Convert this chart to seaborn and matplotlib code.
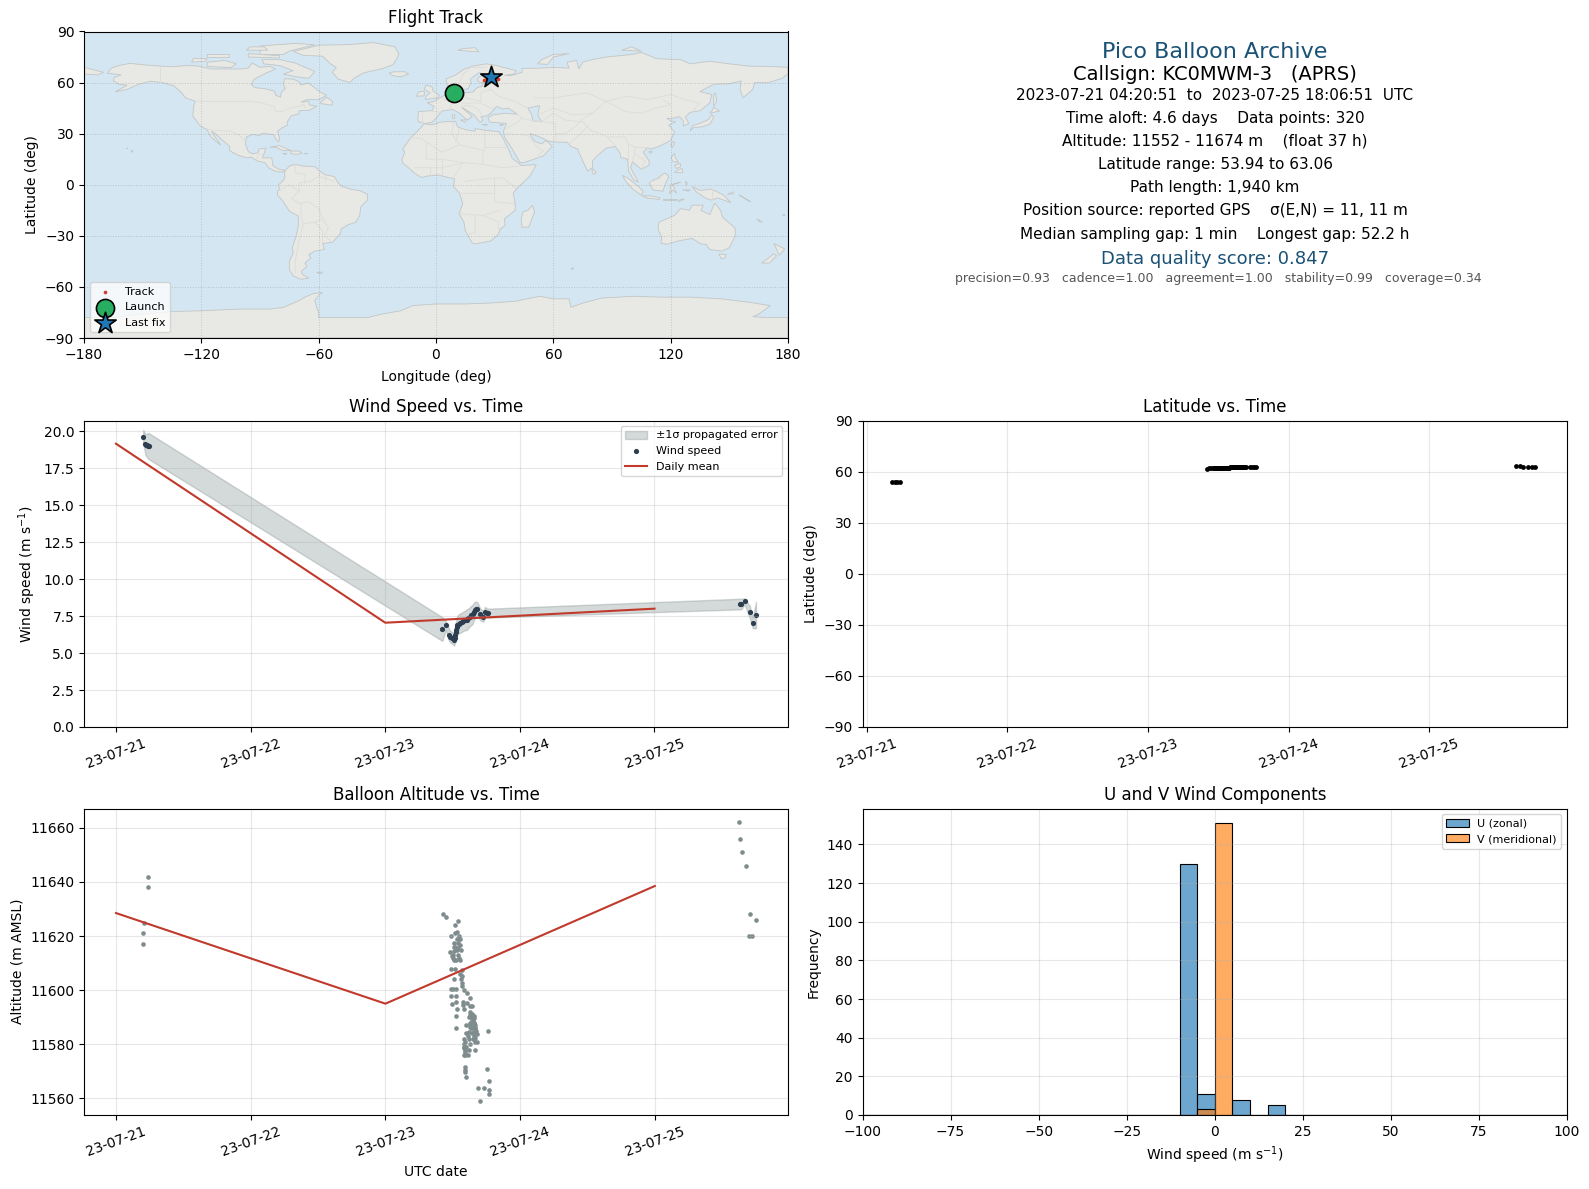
#!/usr/bin/env python3
import numpy as np
import pandas as pd
import seaborn as sns
import matplotlib
matplotlib.use("Agg")
import matplotlib.pyplot as plt
import matplotlib.dates as mdates

W, H = 1589, 1189
T0 = pd.Timestamp("2023-07-21")

RED = "#c0392b"
NAVY = "#1a5276"
SLATE = "#2c3e50"
GREY = "#7f8c8d"
WATER = "#d4e6f1"
LAND = "#e8e8e4"

# ---- flight data (time in days after 07-21 00:00) ----
wind_time = [0.202, 0.219, 0.225, 0.231, 0.237, 0.243, 2.424, 2.449, 2.476, 2.484, 2.494, 2.503, 2.511, 2.515,
             2.518, 2.522, 2.526, 2.531, 2.536, 2.546, 2.556, 2.568, 2.580, 2.592, 2.605, 2.618, 2.630, 2.640,
             2.650, 2.658, 2.667, 2.675, 2.684, 2.704, 2.729, 2.741, 2.754, 2.766, 4.633, 4.645, 4.670, 4.707,
             4.730, 4.754]
wind_speed = [19.63, 19.10, 19.05, 19.05, 19.00, 18.99, 6.62, 6.87, 6.19, 6.10, 6.05, 6.00, 5.90, 6.05,
              6.23, 6.40, 6.57, 6.75, 6.91, 6.97, 7.02, 7.08, 7.14, 7.20, 7.25, 7.36, 7.47, 7.55,
              7.63, 7.80, 7.93, 7.97, 7.99, 7.63, 7.47, 7.77, 7.73, 7.70, 8.31, 8.31, 8.49, 7.79,
              7.03, 7.57]
wind_sigma = [0.45, 0.70, 0.75, 0.80, 0.85, 0.88, 0.80, 0.30, 0.40, 0.40, 0.40, 0.40, 0.40, 0.45,
              0.50, 0.55, 0.60, 0.60, 0.60, 0.65, 0.65, 0.65, 0.65, 0.65, 0.70, 0.65, 0.65, 0.65,
              0.65, 0.60, 0.55, 0.50, 0.45, 0.40, 0.35, 0.35, 0.30, 0.30, 0.36, 0.36, 0.20, 0.40,
              0.35, 0.90]

mean_time = [0, 2, 4]
mean_speed = [19.15, 7.05, 8.0]
mean_alt = [11628.5, 11595.0, 11638.5]

alt_time = [0.203, 0.203, 0.208, 0.241, 0.241,
            2.425, 2.447, 2.541, 2.514, 2.534, 2.519, 2.487, 2.544, 2.551, 2.507, 2.536, 2.556, 2.507, 2.536,
            2.561, 2.531, 2.477, 2.507, 2.497, 2.499, 2.507, 2.526, 2.551, 2.487, 2.514, 2.568, 2.551, 2.568,
            2.511, 2.561, 2.568, 2.568, 2.487, 2.502, 2.526, 2.581, 2.606, 2.625, 2.487, 2.526, 2.576, 2.606,
            2.576, 2.494, 2.526, 2.625, 2.643, 2.531, 2.581, 2.630, 2.643, 2.650, 2.526, 2.618, 2.655, 2.630,
            2.655, 2.667, 2.601, 2.630, 2.643, 2.667, 2.526, 2.618, 2.655, 2.680, 2.759, 2.581, 2.618, 2.667,
            2.662, 2.581, 2.625, 2.680, 2.586, 2.667, 2.593, 2.618, 2.593, 2.581, 2.611, 2.593, 2.593, 2.593,
            2.752, 2.596, 2.766, 2.685, 2.729, 2.766, 2.699, 2.766,
            2.500, 2.515, 2.540, 2.545, 2.530, 2.545, 2.625, 2.635, 2.640, 2.648, 2.652, 2.660, 2.635, 2.645,
            2.655, 2.662, 2.670, 2.650, 2.640, 2.628, 2.660, 2.585, 2.590, 2.598, 2.610, 2.588, 2.600,
            4.624, 4.631, 4.646, 4.676, 4.706, 4.751, 4.698, 4.721]
alt_m = [11621.0, 11617.0, 11625.0, 11642.0, 11638.0,
         11628.3, 11627.0, 11625.7, 11624.1, 11621.6, 11621.1, 11620.0, 11618.9, 11618.9, 11617.4, 11617.4, 11616.8, 11615.9, 11615.6,
         11614.7, 11614.7, 11614.2, 11614.3, 11612.8, 11611.9, 11611.0, 11611.0, 11611.0, 11607.8, 11607.8, 11607.5, 11606.0, 11605.3,
         11604.1, 11604.1, 11602.6, 11601.7, 11600.6, 11600.6, 11600.6, 11600.1, 11598.9, 11597.0, 11597.9, 11597.7, 11595.8, 11595.4,
         11594.6, 11594.8, 11595.8, 11594.2, 11594.0, 11593.0, 11593.0, 11592.1, 11591.2, 11590.5, 11590.6, 11590.2, 11589.6, 11587.8,
         11587.8, 11587.2, 11587.2, 11586.5, 11585.9, 11585.9, 11585.9, 11584.7, 11584.7, 11583.8, 11584.8, 11582.0, 11582.0, 11582.2,
         11580.7, 11580.1, 11580.1, 11580.7, 11578.5, 11577.9, 11577.9, 11577.9, 11576.0, 11576.0, 11576.0, 11571.7, 11570.5, 11569.9,
         11570.7, 11567.8, 11566.5, 11563.7, 11563.7, 11563.1, 11559.0, 11561.5,
         11613.0, 11616.0, 11613.0, 11620.0, 11619.0, 11612.0, 11591.0, 11590.0, 11589.0, 11588.5, 11589.0, 11588.0, 11586.0, 11584.0,
         11583.0, 11586.0, 11585.0, 11582.0, 11586.5, 11587.0, 11590.5, 11579.0, 11577.0, 11579.0, 11583.0, 11581.0, 11584.0,
         11662.0, 11656.0, 11651.0, 11646.0, 11628.0, 11626.0, 11620.0, 11620.0]

lat_time = [0.181, 0.203, 0.219, 0.240, 2.420, 2.436, 2.452, 2.460, 2.470, 2.475, 2.480, 2.485, 2.490, 2.495, 2.500, 2.505,
            2.510, 2.515, 2.520, 2.525, 2.530, 2.535, 2.540, 2.545, 2.550, 2.555, 2.560, 2.565, 2.570, 2.575, 2.580, 2.585,
            2.590, 2.595, 2.600, 2.605, 2.610, 2.615, 2.620, 2.625, 2.630, 2.635, 2.640, 2.645, 2.650, 2.655, 2.660, 2.665,
            2.670, 2.675, 2.680, 2.685, 2.690, 2.700, 2.729, 2.741, 2.754, 2.766, 4.620, 4.645, 4.670, 4.700, 4.730, 4.754]
lat_deg = [53.94, 54.02, 54.08, 54.15, 61.70, 61.85, 62.00, 62.05, 62.10, 62.10, 62.15, 62.15, 62.20, 62.20, 62.20, 62.20,
           62.25, 62.25, 62.25, 62.25, 62.30, 62.30, 62.30, 62.30, 62.30, 62.35, 62.35, 62.35, 62.35, 62.35, 62.35, 62.40,
           62.40, 62.40, 62.40, 62.40, 62.40, 62.40, 62.40, 62.40, 62.40, 62.45, 62.45, 62.45, 62.45, 62.45, 62.45, 62.45,
           62.45, 62.45, 62.45, 62.45, 62.45, 62.45, 62.50, 62.50, 62.50, 62.55, 63.06, 63.00, 62.95, 62.95, 62.90, 62.90]

bin_edges = [-100, -95, -90, -85, -80, -75, -70, -65, -60, -55, -50, -45, -40, -35, -30, -25, -20, -15, -10, -5,
             0, 5, 10, 15, 20, 25, 30, 35, 40, 45, 50, 55, 60, 65, 70, 75, 80, 85, 90, 95, 100]
u_counts = [0] * 18 + [130, 11, 0, 8, 0, 5] + [0] * 16
v_counts = [0] * 19 + [3, 151] + [0] * 19

track_lon = [9.3, 9.6, 24.8, 26.0, 27.4, 28.6, 29.8, 31.5, 28.1]
track_lat = [53.94, 54.15, 61.7, 62.1, 62.3, 62.4, 62.5, 62.1, 63.06]
launch_lon, launch_lat = [9.3], [53.9]
last_lon, last_lat = [28.1], [63.2]

# ---- rough coastlines, (lon, lat) ----
NORTH_AMERICA = [(-168, 65.5), (-166, 68.5), (-162, 70), (-156.5, 71.3), (-150, 70.5), (-141, 69.7), (-135, 69.3), (-128, 70),
                 (-122, 69.8), (-115, 68), (-108, 68), (-100, 68), (-96, 68.5), (-94, 71.5), (-90, 69), (-85, 69.5), (-82, 68),
                 (-87, 65.5), (-93, 62), (-94.5, 59), (-92.5, 57), (-88, 56.5), (-82.5, 55), (-82, 52.5), (-79.5, 51.5),
                 (-79, 54.5), (-77, 56.5), (-78, 59), (-77.5, 62.3), (-73, 62), (-70, 60.5), (-69, 58.5), (-65.5, 59.8),
                 (-62, 57), (-60, 55), (-56, 52.5), (-60, 50), (-66, 50), (-69, 48.5), (-65, 49), (-65, 47), (-61, 46),
                 (-65, 43.7), (-70, 43.5), (-70, 41.7), (-74, 40.5), (-76, 37), (-76, 35), (-79, 33.2), (-81, 31.5), (-80, 27),
                 (-80.5, 25.2), (-82, 27), (-83, 29.5), (-85, 29.7), (-89, 30.2), (-90, 29), (-94, 29.5), (-97, 28), (-97.5, 24),
                 (-96, 19.5), (-94, 18.2), (-91, 18.8), (-90.5, 21), (-87, 21.5), (-88, 18), (-88.8, 15.8), (-84, 15.8),
                 (-83.3, 11), (-80, 9), (-77.3, 8.5), (-78.5, 7.5), (-80.5, 7.5), (-83, 8.3), (-85.7, 10), (-87.5, 13),
                 (-91.5, 14), (-94.5, 16.2), (-97, 15.8), (-101.5, 17.5), (-105.5, 20), (-105.5, 22.5), (-109, 26),
                 (-112.8, 30), (-114.8, 31.5), (-113, 28), (-110, 23.2), (-112, 25), (-115, 28), (-117.2, 32.5),
                 (-120.5, 34.5), (-122.5, 37.5), (-124.3, 40.3), (-124, 46), (-123, 49), (-128, 51), (-130.5, 54.5),
                 (-134, 58), (-140, 60), (-146, 60.8), (-152, 59), (-158, 56), (-164, 54.6), (-158, 58.5), (-162, 59),
                 (-165, 61), (-164.5, 63), (-161, 64.5)]
SOUTH_AMERICA = [(-77.3, 8), (-75, 11), (-72, 12), (-68, 11), (-62, 10.7), (-60, 8.5), (-57, 6), (-52, 4.8), (-50, 1), (-48, -1),
                 (-44, -2.5), (-39, -3.5), (-35, -5.5), (-35, -9), (-38.5, -13), (-39, -18), (-41, -22), (-45, -23.5),
                 (-48.5, -26), (-49, -29), (-53, -33.8), (-58, -34.5), (-57, -38), (-62, -39), (-65, -41), (-64, -43), (-67, -46),
                 (-66, -48), (-69, -51), (-68, -53), (-65, -54.8), (-69, -55.5), (-73, -53.5), (-75, -50), (-75, -45), (-73, -40),
                 (-73.5, -37), (-71.5, -30), (-70.5, -25), (-70.3, -18.5), (-75, -15.5), (-78, -10), (-81, -6), (-81, -4),
                 (-80, -2.5), (-80.5, 0), (-78.5, 2), (-77.3, 4), (-77.5, 7)]
AFRICA = [(-6, 35.8), (-2, 35.2), (3, 36.9), (10, 37.3), (11, 34), (15, 32.3), (20, 31.5), (20, 33), (25, 32), (32, 31.2), (34, 28),
          (37, 21), (39, 15.5), (43, 12), (43.5, 11.3), (51.3, 11.8), (48, 5), (41.5, -2), (39.5, -5), (40.5, -11), (40.5, -15),
          (35, -20), (35.3, -24), (32.8, -26), (32, -29), (28, -33), (20, -34.8), (18.4, -34), (15, -27), (14.3, -22), (11.8, -17),
          (13.7, -11), (12, -5), (9, -1), (9.5, 3.5), (6, 4.3), (1, 5.8), (-4, 5.2), (-7.5, 4.3), (-11, 6.8), (-13.5, 9.5),
          (-16.8, 12.5), (-17.5, 14.7), (-16, 19), (-17, 21), (-13, 27.5), (-9.8, 31)]
EURASIA = [(-9, 37), (-9.3, 39), (-9, 43), (-2, 43.5), (-1, 46), (-4.5, 48.3), (-1.5, 48.7), (2, 51), (5, 53), (8.5, 54), (8.2, 57),
           (10.5, 57.5), (10, 54.5), (14, 54), (19, 54.5), (21, 57), (24, 58), (23.5, 59.3), (30, 60), (23, 60), (21.3, 61),
           (21.5, 63), (25, 65), (22, 65.8), (17.5, 62), (18, 60), (16.5, 56.5), (13, 55.5), (11, 59), (6, 58), (5, 62), (10, 64.5),
           (14.5, 68), (20, 70), (26, 71), (31, 70), (41, 67), (40, 65), (35, 64.3), (38, 64), (44, 66), (44, 68.3), (54, 68.5),
           (60, 69), (68, 68.5), (67, 72), (72, 73), (73, 68), (75, 72), (80, 73.5), (87, 75), (100, 76.5), (105, 77.7), (113, 74),
           (125, 73.5), (130, 71), (140, 72.5), (150, 71), (160, 69.7), (170, 69.5), (180, 69), (180, 65), (177, 62.5), (170, 60),
           (163, 60), (162, 56), (157, 51), (155.5, 56), (156, 61), (150, 59.3), (142, 59), (135, 54.7), (141, 53), (140, 48),
           (135, 43.5), (130, 42.5), (127.5, 39.8), (129.3, 36), (126.5, 34.5), (126.5, 37.5), (124.5, 40), (121, 39), (118, 39),
           (120, 37.5), (122.5, 37), (119, 35), (122, 31), (120, 26), (114, 22.5), (110, 21), (108, 21.7), (106, 19), (109, 14),
           (109, 11.5), (105, 9), (103, 11), (100.5, 13.5), (99.5, 10), (103.5, 1.5), (101, 3), (98.5, 8), (98, 15), (94.5, 16),
           (94, 19), (91.5, 22.5), (87, 21.5), (82, 16.5), (80, 14), (80, 10), (77.5, 8), (73, 19), (72.5, 21), (69, 22.5), (67, 25),
           (61.5, 25), (57, 25.7), (55, 27), (51, 29), (48, 30), (50, 26), (51.5, 25), (54, 24), (56.3, 26), (59.5, 22.5), (55, 17),
           (45, 13), (43, 13), (39, 21), (35, 28), (34.5, 31.5), (36, 36), (31, 36.5), (27.5, 36.8), (26.5, 39.5), (29, 41), (35, 42),
           (41.5, 41.5), (37, 45), (34, 44.5), (31, 46), (28, 42), (26, 40.5), (23, 40), (24, 38), (22.5, 36.5), (19.5, 41), (13, 45.7),
           (18.5, 40), (16, 38), (12, 42), (8.5, 44.3), (3, 43.2), (0, 39), (-2, 36.7), (-5.5, 36)]
CHUKOTKA = [(-180, 69), (-175, 67.5), (-170, 66), (-173, 64.5), (-180, 65)]
AUSTRALIA = [(114, -22), (122, -18), (125, -14), (129.5, -15), (131, -12), (136.7, -12), (135.5, -15), (140, -17.5), (142.5, -10.8),
             (145.5, -15), (146.5, -19), (153, -25.5), (153, -30), (150, -37), (146, -39), (140, -38), (138, -35), (135.5, -34.8),
             (131, -31.5), (124, -33), (118, -35), (115, -34.3), (115.5, -31), (113.5, -26)]
ANTARCTICA = [(-180, -90), (-180, -78), (-165, -78), (-150, -76), (-135, -74.5), (-120, -74), (-100, -73), (-85, -73), (-78, -72),
              (-70, -68), (-67, -66), (-63, -64), (-58, -63.2), (-60, -65), (-62, -68), (-61, -72), (-60, -75), (-60, -78), (-45, -78),
              (-35, -78), (-28, -76), (-18, -74), (-12, -71), (0, -70), (15, -70), (27, -69.5), (40, -68.5), (53, -65.5), (60, -67),
              (68, -67), (69, -72), (75, -69.5), (85, -66.5), (101, -65.5), (115, -66), (130, -66), (146, -67), (160, -69), (171, -71),
              (165, -76), (162, -77.5), (170, -78), (180, -78), (180, -90)]
GREENLAND = [(-73, 78.3), (-68, 76), (-58, 75.5), (-54, 71), (-51, 69), (-53, 66), (-50, 62), (-44, 60), (-42, 62.5), (-37, 65.7),
             (-27, 68.3), (-22, 70.5), (-20, 74), (-19, 77), (-21, 81), (-32, 83.5), (-45, 82.3), (-60, 82), (-65, 80.5)]
ISLANDS = [
    [(-80, 73.5), (-72, 71.5), (-67, 69), (-62, 66.5), (-65, 62.5), (-72, 63.5), (-78, 65), (-73, 67), (-80, 70), (-88, 71), (-89, 73.5)],
    [(-117, 69.5), (-105, 68.8), (-102, 71), (-108, 73), (-117, 72)],
    [(-90, 76.5), (-78, 76.5), (-75, 78.5), (-62, 82.2), (-72, 83), (-90, 81.5)],
    [(-125, 72), (-118, 72.5), (-117, 74), (-124, 74.3)],
    [(-96, 75), (-80, 74.5), (-80, 75.8), (-96, 77)],
    [(-117, 75), (-106, 75), (-106, 76.5), (-117, 76.5)],
    [(-97, 79), (-86, 79), (-88, 81), (-95, 81)],
    [(-59, 47.7), (-53, 46.7), (-53, 49), (-56, 51.5), (-59, 48.5)],
    [(-24, 65.5), (-22, 64), (-18, 63.4), (-14, 65), (-16, 66.4), (-22, 66.3)],
    [(-85, 22), (-80, 23), (-75, 20.5), (-74.2, 20.2), (-78, 20), (-82, 22)],
    [(-74.3, 19.8), (-70, 19.8), (-68.5, 18.5), (-71.5, 17.8), (-74.3, 18.4)],
    [(-78.3, 18.4), (-76.3, 18.2), (-77, 17.8)],
    [(-67.2, 18.5), (-65.7, 18.4), (-66.5, 18)],
    [(-156, 20.2), (-155, 19.7), (-155.7, 19)],
    [(-158.2, 21.6), (-157.7, 21.3), (-158, 21.2)],
    [(-61, -51.5), (-58, -51.3), (-59, -52.3)],
    [(-5.5, 50), (1, 51.2), (1.7, 52.7), (-1.5, 55), (-2, 57.5), (-5, 58.5), (-6, 56), (-3, 54), (-5, 52)],
    [(-10, 52), (-6, 52.2), (-6, 55), (-9, 54.5)],
    [(11, 79), (22, 78), (20, 80.5), (14, 80)],
    [(52, 71), (57, 70.7), (60, 75), (68, 77), (60, 76.5), (54, 73.5)],
    [(95, 79), (105, 78.5), (100, 81)],
    [(12.5, 38), (15.5, 38.2), (15, 36.7)],
    [(8.3, 41), (9.7, 41), (9.5, 39), (8.5, 39)],
    [(23.5, 35.5), (26.3, 35.2), (24.8, 35)],
    [(32.4, 35), (34.5, 35.6), (33.8, 34.7)],
    [(130, 31.5), (131.5, 33.5), (136, 34), (140, 35.5), (142, 39.5), (141, 41.3), (139.5, 38.5), (136, 36.5), (131, 34.5)],
    [(140, 42), (145, 43.3), (142, 45.5), (141, 43.2)],
    [(142, 46), (143.5, 49), (143, 54), (142, 53), (142, 48)],
    [(120, 23), (121, 22), (122, 25), (121, 25.3)],
    [(108.7, 19.3), (110.5, 20), (110, 18.3)],
    [(80, 9.5), (82, 7), (80.5, 6), (79.8, 8)],
    [(120.3, 16), (122, 18.5), (122.3, 16), (124, 13), (121, 13.8)],
    [(122, 7.2), (126, 7), (126, 9.5), (123.5, 8.5)],
    [(122, 11.5), (125, 12.5), (125, 10.5), (123, 9.5)],
    [(109, 1), (111, 2.8), (113, 3.5), (117, 7), (119, 5), (117.5, 1), (116, -3.8), (111, -3), (110, -1)],
    [(95.3, 5.5), (98, 4), (103.5, -1), (106, -4), (105, -6), (101, -3), (97, 2)],
    [(105.3, -6.5), (110, -6.5), (114.5, -7.7), (114.3, -8.7), (108, -7.8)],
    [(119.5, -5.5), (120, 0), (125, 1.5), (121, 0), (123, -5), (121, -3)],
    [(131, -1), (135, -3.3), (141, -2.6), (147, -6), (150.8, -10.5), (144, -7.7), (141, -9), (138, -8), (133, -4)],
    [(124, -10), (127, -8.5), (125, -8.5)],
    [(116, -8.5), (119, -8.5), (123, -8.5), (123, -9), (116, -9)],
    [(127.5, 2), (128.5, 1), (128, -0.5)],
    [(126, -3), (130, -3), (129, -3.7)],
    [(149, -5.5), (152, -4.2), (152, -5.5)],
    [(155, -6), (157, -7.5), (160, -9.5), (161, -10)],
    [(164, -20), (167, -22), (165.5, -21.7)],
    [(177, -17.5), (178.5, -17.7), (178, -18.2)],
    [(69, -49), (70.5, -49), (69.5, -49.7)],
    [(144.7, -40.8), (148.2, -40.9), (147.8, -43), (146, -43.5)],
    [(172.8, -34.5), (178.3, -37.7), (175.5, -41.5), (174.5, -38.8)],
    [(172.7, -40.6), (174.2, -41.7), (170.5, -46), (166.5, -46), (170, -43)],
    [(49.3, -12), (50.4, -16), (47.5, -24.8), (44, -25), (43.5, -20), (44.5, -16), (47, -15)],
]
LAKES = [
    [(47, 45), (53, 46.5), (52, 41), (54, 37), (49.5, 37.5), (49, 41)],
]
BORDERS = [
    [(-141, 69.7), (-141, 60)], [(-123, 49), (-95, 49), (-89, 48), (-83, 46), (-82, 43), (-79, 43), (-75, 45), (-70, 46), (-67.5, 47.3), (-67, 45)],
    [(-117, 32.5), (-108, 31.5), (-106, 31.7), (-101, 29.5), (-97.5, 26)], [(-92, 14.5), (-91, 17.5), (-89, 18)],
    [(-52, 2), (-60, 5), (-64, 2), (-70, 1), (-70, -4), (-74, -8), (-70, -11), (-65, -10), (-60, -14), (-58, -20), (-55, -25), (-57, -30), (-53, -33.8)],
    [(-69, -11), (-69, -18), (-68, -23), (-70, -33), (-72, -45), (-72, -52)], [(-58, -20), (-62, -22), (-68, -23)],
    [(-72, 12), (-72, 7), (-67, 6), (-67, 1)], [(-80, -3.5), (-75, 0), (-70, -4)], [(-60, 8.5), (-60, 5)], [(-57, 6), (-57, 2)], [(-62, -22), (-58, -27), (-58, -34)],
    [(-13, 27.5), (-8, 27.5), (3, 19), (12, 23.5), (25, 20), (25, 31.5)], [(25, 22), (37, 22)], [(-5, 25), (-5, 15), (3, 15), (14, 13), (24, 12), (24, 20)],
    [(14, 13), (9, 4.5)], [(24, 12), (34, 10), (43, 11)], [(12, -5), (30, -5), (30, -10), (40, -11)], [(11.8, -17), (24, -18), (33, -15)],
    [(20, -18), (20, -28), (17, -29)], [(24, -18), (32, -22), (32, -26)], [(30, -5), (30, 4), (34, 4), (41, -2)], [(15, 2), (30, 4)],
    [(-11, 10), (-3, 10), (3, 10), (14, 13)], [(-3, 5.2), (-3, 10)], [(3, 6), (3, 15)], [(9, 37), (8, 30), (12, 23.5)], [(12, 33), (10, 25)],
    [(28, 56), (32, 52), (40, 49), (47, 45)], [(50, 51), (60, 51), (77, 54), (87, 49), (98, 52), (108, 50), (120, 53), (127, 50), (135, 48), (131, 43)],
    [(87, 49), (80, 42), (74, 38), (79, 32), (88, 28), (97, 28), (98, 24), (102, 22), (108, 21.7)], [(87, 49), (97, 43), (105, 42), (112, 45), (120, 47), (116, 50)],
    [(44, 39), (48, 38), (54, 37), (61, 36), (61, 31), (61.5, 25)], [(61, 30), (66, 30), (71, 34), (74, 37)], [(68, 24), (74, 30), (78, 35)],
    [(36, 30), (47, 29), (52, 22), (55, 20), (52, 17)], [(36, 33), (42, 37), (44, 39), (41.5, 41.5)], [(54, 37), (60, 42), (66, 38), (74, 37)], [(52, 41), (60, 45), (70, 41), (80, 42)],
    [(98, 24), (98, 15)], [(102, 22), (100.5, 13.5)], [(105, 9), (107, 14), (102, 18)], [(92, 23), (88, 27)],
    [(3, 51), (6, 49), (8, 48), (7, 44)], [(-2, 43), (3, 42.5)], [(-7, 42), (-7, 37)], [(6, 51), (7, 54)], [(14, 54), (15, 51), (23, 49), (23, 54), (28, 56)],
    [(13, 48), (17, 48), (23, 48), (28, 45), (29, 45)], [(14, 46.5), (19, 46), (22, 44), (23, 41)], [(29, 69), (30, 62), (28, 60)], [(14, 65), (18, 69), (26, 69)], [(12, 60), (14, 65)],
    [(141, -2.6), (141, -9)], [(109.5, 1.5), (115, 4)],
]

# ---- text panel lines: text, pixel y, font size, colour ----
panel_text = ["Pico Balloon Archive", "Callsign: KC0MWM-3   (APRS)", "2023-07-21 04:20:51  to  2023-07-25 18:06:51  UTC",
              "Time aloft: 4.6 days    Data points: 320", "Altitude: 11552 - 11674 m    (float 37 h)",
              "Latitude range: 53.94 to 63.06", "Path length: 1,940 km", "Position source: reported GPS    σ(E,N) = 11, 11 m",
              "Median sampling gap: 1 min    Longest gap: 52.2 h", "Data quality score: 0.847",
              "precision=0.93   cadence=1.00   agreement=1.00   stability=0.99   coverage=0.34"]
panel_y = [52, 74, 95.5, 118.5, 141.5, 164.5, 187.5, 210.5, 234, 258.5, 279]
panel_x = [1215, 1215, 1215, 1215, 1215, 1215, 1215, 1215, 1215, 1215, 1218]
panel_size = [16, 14, 11, 11, 11, 11, 11, 11, 11, 13, 9]
panel_color = [NAVY, "black"] + ["black"] * 7 + [NAVY, "#555555"]


def dates(days):
    return T0 + pd.to_timedelta(np.asarray(days, dtype=float), unit="D")


def make_axes(fig, left, top, right, bottom):
    return fig.add_axes([left / W, 1 - bottom / H, (right - left) / W, (bottom - top) / H])


def date_axis(ax):
    ax.xaxis.set_major_locator(mdates.DayLocator())
    ax.xaxis.set_major_formatter(mdates.DateFormatter("%y-%m-%d"))
    ax.tick_params(axis="x", rotation=20)
    ax.grid(True, alpha=0.3)


def draw_map(ax):
    ax.set_facecolor(WATER)
    shapes = [NORTH_AMERICA, SOUTH_AMERICA, AFRICA, EURASIA, CHUKOTKA, AUSTRALIA, ANTARCTICA, GREENLAND] + ISLANDS
    for shape in shapes:
        lon, lat = zip(*shape)
        ax.fill(lon, lat, facecolor=LAND, edgecolor="#c2c6c6", linewidth=0.6, zorder=1)
    for shape in LAKES:
        lon, lat = zip(*shape)
        ax.fill(lon, lat, facecolor=WATER, edgecolor="#c2c6c6", linewidth=0.6, zorder=1.1)
    for line in BORDERS:
        lon, lat = zip(*line)
        ax.plot(lon, lat, color="#dcdddb", linewidth=0.6, zorder=1.2)
    sns.scatterplot(x=track_lon, y=track_lat, color="#d63a2f", s=7, linewidth=0, ax=ax, label="Track", zorder=4)
    sns.scatterplot(x=launch_lon, y=launch_lat, color="#27ae60", s=170, edgecolor="black", linewidth=1.2,
                    ax=ax, label="Launch", zorder=5)
    sns.scatterplot(x=last_lon, y=last_lat, color="#1f77b4", marker="*", s=260, edgecolor="black", linewidth=1.2,
                    ax=ax, label="Last fix", zorder=5)
    ax.set_xlim(-180, 180)
    ax.set_ylim(-90, 90)
    ax.set_xticks(np.arange(-180, 181, 60))
    ax.set_yticks(np.arange(-90, 91, 30))
    ax.grid(True, linestyle=":", linewidth=0.7, color="gray", alpha=0.35)
    ax.set_title("Flight Track", fontsize=12)
    ax.set_xlabel("Longitude (deg)", labelpad=6)
    ax.set_ylabel("Latitude (deg)")
    ax.legend(loc="lower left", fontsize=8, framealpha=0.75)


def draw_wind(ax):
    speed = np.array(wind_speed)
    sigma = np.array(wind_sigma)
    ax.fill_between(dates(wind_time), speed - sigma, speed + sigma, color=GREY, alpha=0.33, label="±1σ propagated error")
    sns.scatterplot(x=dates(wind_time), y=wind_speed, color=SLATE, s=14, linewidth=0, ax=ax, label="Wind speed")
    sns.lineplot(x=dates(mean_time), y=mean_speed, color=RED, linewidth=1.5, errorbar=None, ax=ax, label="Daily mean")
    date_axis(ax)
    ax.set_ylim(0, 20.72)
    ax.set_title("Wind Speed vs. Time", fontsize=12)
    ax.set_ylabel("Wind speed (m s$^{-1}$)")
    ax.set_xlabel("")
    ax.legend(loc="upper right", fontsize=8)


def draw_lat(ax):
    sns.scatterplot(x=dates(lat_time), y=lat_deg, color="black", s=12, linewidth=0, ax=ax)
    date_axis(ax)
    ax.set_xlim(T0 + pd.Timedelta(days=-0.029), T0 + pd.Timedelta(days=4.98))
    ax.set_ylim(-90, 90)
    ax.set_yticks(np.arange(-90, 91, 30))
    ax.set_title("Latitude vs. Time", fontsize=12)
    ax.set_xlabel("")
    ax.set_ylabel("Latitude (deg)")


def draw_alt(ax):
    sns.scatterplot(x=dates(alt_time), y=alt_m, color=GREY, s=11, linewidth=0, ax=ax)
    sns.lineplot(x=dates(mean_time), y=mean_alt, color=RED, linewidth=1.5, errorbar=None, ax=ax)
    date_axis(ax)
    ax.set_title("Balloon Altitude vs. Time", fontsize=12)
    ax.set_xlabel("UTC date")
    ax.set_ylabel("Altitude (m AMSL)")


def draw_hist(ax):
    centres = (np.array(bin_edges[:-1]) + np.array(bin_edges[1:])) / 2
    sns.histplot(x=centres, weights=u_counts, bins=bin_edges, color="#1f77b4", alpha=0.65, edgecolor="black",
                 linewidth=0.8, ax=ax, label="U (zonal)")
    sns.histplot(x=centres, weights=v_counts, bins=bin_edges, color="#ff7f0e", alpha=0.65, edgecolor="black",
                 linewidth=0.8, ax=ax, label="V (meridional)")
    ax.set_xlim(-100, 100)
    ax.grid(True, alpha=0.3)
    ax.set_title("U and V Wind Components", fontsize=12)
    ax.set_xlabel("Wind speed (m s$^{-1}$)")
    ax.set_ylabel("Frequency")
    ax.legend(loc="upper right", fontsize=8)


def main():
    fig = plt.figure(figsize=(W / 100, H / 100), dpi=100)
    draw_map(make_axes(fig, 84, 31.5, 788, 338))
    draw_wind(make_axes(fig, 84, 420.5, 788, 727))
    draw_lat(make_axes(fig, 862.5, 420.5, 1567, 727))
    draw_alt(make_axes(fig, 84, 808.5, 788, 1115))
    draw_hist(make_axes(fig, 862.5, 808.5, 1567, 1115))
    for s, x, y, size, col in zip(panel_text, panel_x, panel_y, panel_size, panel_color):
        fig.text(x / W, 1 - y / H, s, ha="center", va="center", fontsize=size, color=col)
    fig.savefig("out.png", dpi=100)


if __name__ == "__main__":
    main()
